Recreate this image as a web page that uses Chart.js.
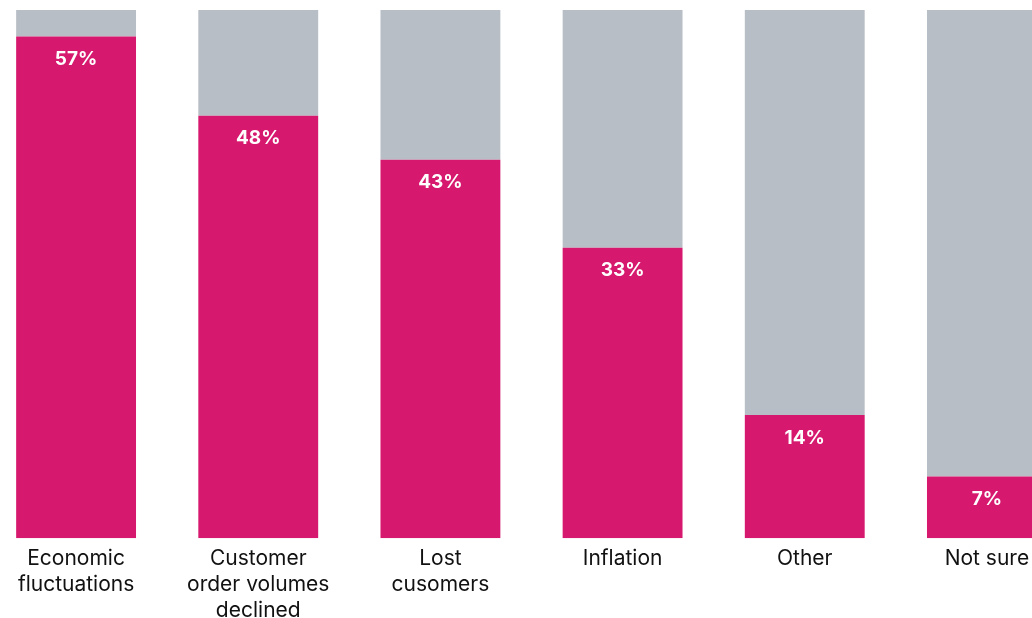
<!DOCTYPE html>
<html>
<head>
<meta charset="utf-8">
<script src="https://cdn.jsdelivr.net/npm/chart.js@4.4.0/dist/chart.umd.min.js"></script>
<style>
  html, body { margin: 0; padding: 0; background: #fff; overflow: hidden; }
  #wrap { position: absolute; left: -15px; top: 0; width: 1093px; height: 631px; }
</style>
</head>
<body>
<div id="wrap"><canvas id="chart"></canvas></div>
<script>
// categories and values (%)
var categories = [
  ["Economic", "fluctuations"],
  ["Customer", "order volumes", "declined"],
  ["Lost", "cusomers"],
  "Inflation",
  "Other",
  "Not sure"
];
var values = [57, 48, 43, 33, 14, 7];
var scaleMax = 60;
var rest = values.map(function (v) { return scaleMax - v; });

// white percentage labels inside the pink bars
var valueLabels = {
  id: "valueLabels",
  afterDatasetsDraw: function (chart) {
    var ctx = chart.ctx;
    var meta = chart.getDatasetMeta(0);
    ctx.save();
    ctx.fillStyle = "#ffffff";
    ctx.font = "bold 19px Inter, 'Noto Sans', sans-serif";
    ctx.textAlign = "center";
    ctx.textBaseline = "middle";
    meta.data.forEach(function (bar, i) {
      ctx.fillText(values[i] + "%", bar.x, bar.y + 23);
    });
    ctx.restore();
  }
};

var ctx = document.getElementById("chart").getContext("2d");
new Chart(ctx, {
  type: "bar",
  data: {
    labels: categories,
    datasets: [
      {
        data: values,
        backgroundColor: "#d6196e",
        borderWidth: 0
      },
      {
        data: rest,
        backgroundColor: "#b8bec5",
        borderWidth: 0
      }
    ]
  },
  options: {
    responsive: true,
    maintainAspectRatio: false,
    animation: false,
    layout: { padding: { top: 10, left: 0, right: 0, bottom: 0 } },
    plugins: {
      legend: { display: false },
      tooltip: { enabled: false }
    },
    datasets: {
      bar: { barPercentage: 0.658, categoryPercentage: 1 }
    },
    scales: {
      x: {
        stacked: true,
        grid: { display: false, drawTicks: false },
        border: { display: false },
        ticks: {
          color: "#111111",
          padding: 8,
          maxRotation: 0,
          autoSkip: false,
          font: { family: "Inter, 'Noto Sans', sans-serif", size: 21, lineHeight: 1.22 }
        }
      },
      y: {
        stacked: true,
        display: false,
        min: 0,
        max: scaleMax
      }
    }
  },
  plugins: [valueLabels]
});
</script>
</body>
</html>
